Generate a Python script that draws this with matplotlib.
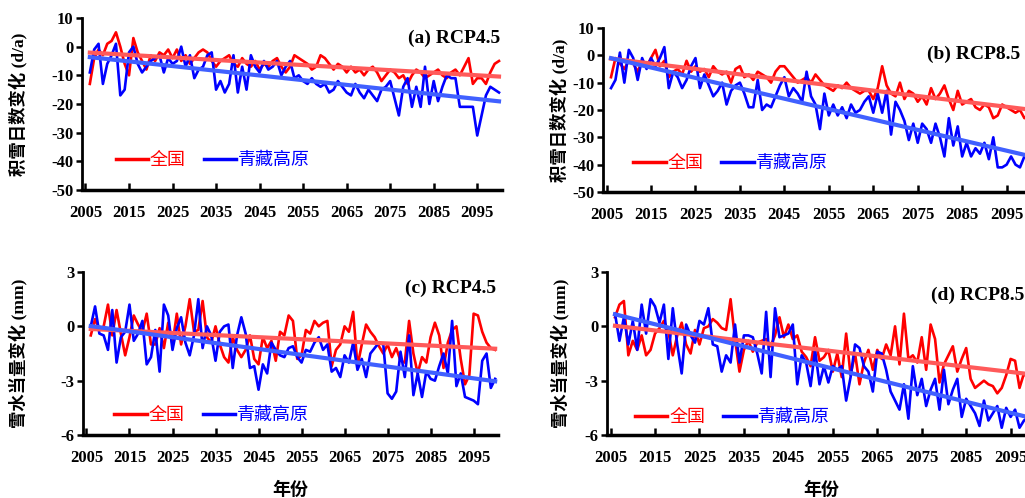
import matplotlib
matplotlib.use("Agg")
import matplotlib.pyplot as plt
import numpy as np

plt.rcParams['font.family'] = ['Liberation Serif', 'Noto Sans CJK SC']
plt.rcParams['font.weight'] = 'bold'
plt.rcParams['axes.unicode_minus'] = False

years = np.arange(2006, 2101)
xticks = [2005, 2015, 2025, 2035, 2045, 2055, 2065, 2075, 2085, 2095]

# (a) snow cover days, RCP4.5
a_nation = [-13, -4, -1, -3, 1, 2, 5, 0, -6, -10,
            3, -2, -5, -8, -3, -5, -2, -3, -1, -4,
            -1, -5, -3, -6, -4, -2, -1, -2, -5, -7,
            -5, -4, -3, -6, -7, -4, -6, -7, -5, -8,
            -6, -7, -5, -4, -7, -9, -7, -3, -4, -5,
            -6, -8, -7, -3, -4, -6, -8, -6, -7, -9,
            -7, -9, -8, -10, -8, -7, -9, -12, -10, -8,
            -9, -11, -10, -13, -10, -8, -9, -11, -10, -9,
            -8, -10, -11, -9, -8, -10, -7, -4, -13, -11,
            -11, -13, -9, -6, -5]
a_tibet = [-9, -1, 1, -13, -6, -3, 1, -17, -15, -2,
           0, -6, -9, -7, -5, -4, -3, -9, -4, -6,
           -5, 0, -7, -3, -11, -8, -7, -3, -2, -15,
           -12, -16, -13, -3, -16, -7, -15, -3, -7, -9,
           -5, -8, -7, -5, -10, -7, -5, -11, -10, -12,
           -13, -11, -13, -14, -13, -16, -15, -12, -14, -16,
           -17, -13, -16, -18, -15, -17, -19, -15, -14, -12,
           -18, -24, -14, -11, -21, -14, -21, -7, -20, -12,
           -19, -14, -10, -11, -11, -21, -21, -21, -21, -31,
           -24, -17, -14, -15, -16]

# (b) snow cover days, RCP8.5
b_nation = [-8, -1, -3, -5, -2, -3, -6, -2, -4, -1,
            2, -4, -2, -8, -6, -5, -7, -2, -6, -4,
            -6, -5, -8, -4, -6, -7, -6, -10, -5, -4,
            -8, -7, -9, -6, -7, -8, -10, -6, -4, -4,
            -6, -8, -10, -9, -8, -10, -7, -9, -11, -12,
            -13, -11, -12, -10, -12, -13, -14, -13, -13, -16,
            -12, -4, -11, -14, -15, -10, -16, -13, -14, -17,
            -15, -18, -12, -16, -14, -11, -16, -20, -13, -18,
            -17, -16, -19, -20, -18, -19, -23, -22, -18, -19,
            -20, -21, -20, -23, -22]
b_tibet = [-12, -9, 1, -10, 2, -1, -9, -1, -5, -1,
           -4, -1, 3, -12, -6, -8, -12, -9, -4, -1,
           -12, -7, -11, -15, -13, -10, -18, -13, -11, -10,
           -14, -19, -19, -9, -20, -18, -19, -15, -11, -8,
           -15, -12, -14, -17, -6, -15, -18, -27, -14, -22,
           -18, -22, -19, -23, -18, -21, -20, -17, -15, -21,
           -14, -21, -13, -29, -17, -20, -24, -31, -25, -32,
           -25, -27, -32, -25, -30, -37, -23, -33, -26, -37,
           -32, -37, -34, -36, -32, -38, -30, -41, -41, -40,
           -37, -40, -41, -37, -35]

# (c) snow water equivalent, RCP4.5
c_nation = [-0.5, 0.4, -0.2, 0.0, 1.2, -0.5, 0.9, -0.4, -1.6, -0.6,
            0.6, 0.1, -0.3, 0.7, -1.0, -1.0, -0.1, -1.2, 0.2, -1.0,
            0.7, -1.0, 0.0, 1.5, -0.3, -0.2, 1.4, -0.6, -0.9, 0.0,
            -1.0, -1.7, -2.0, -0.6, -1.3, -1.7, -1.3, -0.5, -1.8, -2.1,
            -0.6, -1.2, -0.8, -1.9, -0.3, -0.5, 0.6, 0.3, -1.8, -1.6,
            -0.2, -0.4, 0.3, 0.0, 0.2, 0.3, -2.2, -1.3, -1.0, 0.0,
            -0.3, 0.8, -2.2, -1.0, 0.1, -0.3, -0.6, -1.1, -1.5, -1.0,
            -1.7, -1.2, -1.9, -2.0, 0.3, -1.5, -2.6, -1.7, -2.0, -0.6,
            0.2, -0.5, -2.3, -0.9, -0.2, 0.0, -1.8, -3.2, -2.7, 0.7,
            0.6, -0.3, -0.9, -1.2, -1.3]
c_tibet = [0.0, 1.1, -0.4, -0.5, -1.3, 0.9, -2.0, -0.6, -0.3, 1.2,
           -0.8, -0.4, 0.3, -2.1, -1.7, -0.2, -2.5, 1.2, 0.6, -1.3,
           -0.1, 0.5, -0.9, -1.6, -0.5, 1.5, -1.2, 0.0, -0.5, -1.9,
           -0.3, 0.0, 0.1, -2.3, -0.5, 0.5, -0.4, -2.3, -2.2, -3.5,
           -2.1, -2.6, -0.9, -1.3, -1.6, -1.7, -1.2, -1.1, -1.7, -2.0,
           -1.3, -1.4, -0.9, -0.6, -1.3, -1.0, -2.5, -2.3, -2.8, -1.6,
           -2.0, -0.9, -2.4, -1.8, -2.8, -1.5, -1.2, -0.9, -1.0, -3.7,
           -4.0, -3.6, -1.4, -2.8, -0.5, -3.8, -2.6, -3.9, -2.5, -2.9,
           -3.0, -2.2, -1.5, -2.6, 0.3, -3.3, -2.6, -3.9, -4.0, -4.1,
           -4.3, -1.9, -1.5, -3.4, -2.9]

# (d) snow water equivalent, RCP8.5
d_nation = [0.5, 1.2, 1.4, -1.6, -0.8, -1.3, -0.5, -1.6, -1.3, -0.4,
            -0.1, 0.3, -0.3, -1.6, -0.5, 0.2, -1.0, -1.5, -0.2, -1.0,
            -0.1, 0.0, 0.4, 0.2, -0.1, -0.2, 1.5, -0.7, -2.5, -1.3,
            -0.8, -1.4, -0.9, -0.8, -0.7, -1.1, -0.5, 0.5, -0.6, 0.1,
            -0.7, -0.5, -1.4, -1.7, -2.2, -0.6, -1.9, -1.7, -1.3, -2.5,
            -1.5, -2.8, -0.4, -2.7, -1.5, -3.2, -2.0, -1.3, -2.4, -1.3,
            -1.8, -1.0, -1.6, 0.0, -2.1, 0.7, -1.8, -1.6, -2.0, -0.6,
            -2.4, 0.1, -0.7, -3.1, -2.1, -1.6, -1.1, -2.5, -1.8, -1.2,
            -2.9, -3.4, -3.2, -3.0, -3.2, -3.3, -3.7, -3.4, -2.7, -1.8,
            -1.9, -3.4, -2.6, -2.9, -2.7]
d_tibet = [0.7, -0.8, 0.5, -1.0, 0.3, -1.3, 1.2, -0.4, 1.5, 1.1,
           0.2, 1.2, -1.8, 1.0, -1.0, -2.6, 0.1, -0.5, -0.9, 0.3,
           0.1, 1.0, -1.0, -1.1, -2.5, -1.6, -2.0, 0.1, -2.0, -0.5,
           -0.5, -0.6, -1.5, -2.6, 0.8, -2.8, 1.0, -0.6, -0.5, -0.4,
           0.1, -3.2, -1.6, -2.0, -3.3, -1.3, -3.2, -2.2, -3.1, -2.2,
           -2.4, -2.2, -4.1, -2.8, -1.0, -1.2, -2.2, -2.5, -3.6, -1.4,
           -1.5, -2.4, -3.6, -4.1, -4.6, -3.2, -5.1, -2.2, -3.8, -2.9,
           -4.4, -3.5, -2.9, -4.6, -2.4, -4.3, -3.5, -2.9, -5.0, -4.0,
           -4.4, -4.8, -5.5, -4.1, -5.2, -4.8, -4.4, -5.6, -4.5, -5.0,
           -4.6, -5.6, -5.2, -5.0, -5.4]

panels = [
    # nation, tibet, title, ylabel, ylim, yticks, axes rect, title xy, legend xy, ylabel x
    (a_nation, a_tibet, '(a) RCP4.5', '积雪日数变化 (d/a)', (-50, 10), range(-50, 11, 10),
     [0.080, 0.6185, 0.4098, 0.3454], (0.995, 0.93), (0.08, 0.174), -0.130),
    (b_nation, b_tibet, '(b) RCP8.5', '积雪日数变化 (d/a)', (-50, 10), range(-50, 11, 10),
     [0.5883, 0.6145, 0.4185, 0.3293], (0.972, 0.89), (0.07, 0.177), -0.080),
    (c_nation, c_tibet, '(c) RCP4.5', '雪水当量变化 (mm)', (-6, 3), range(-6, 4, 3),
     [0.081, 0.1265, 0.405, 0.3273], (0.995, 0.95), (0.075, 0.123), -0.133),
    (d_nation, d_tibet, '(d) RCP8.5', '雪水当量变化 (mm)', (-6, 3), range(-6, 4, 3),
     [0.5922, 0.1265, 0.4185, 0.3273], (0.972, 0.91), (0.065, 0.11), -0.088),
]

fig = plt.figure(figsize=(10.25, 4.98), dpi=100)

for i, (nat, tib, title, ylab, ylim, yt, rect, txy, lxy, ylx) in enumerate(panels):
    ax = fig.add_axes(rect)
    ax.plot(years, nat, color='#FF0000', lw=1.9, label='全国', zorder=3)
    ax.plot(years, tib, color='#0000FF', lw=1.9, label='青藏高原', zorder=3)
    # linear trends
    for ys, c in ((nat, '#FF5A5A'), (tib, '#4060FF')):
        k, b = np.polyfit(years, ys, 1)
        ax.plot(years, k * years + b, color=c, lw=3.0, zorder=4)
    ax.set_xlim(2004.2, 2100.7)
    ax.set_ylim(*ylim)
    ax.set_xticks(xticks)
    ax.set_yticks(list(yt))
    ax.spines['top'].set_visible(False)
    ax.spines['right'].set_visible(False)
    ax.spines['left'].set_linewidth(2)
    ax.spines['bottom'].set_linewidth(2.5)
    ax.tick_params(axis='y', direction='out', length=4, width=1.8, labelsize=12, pad=2)
    ax.tick_params(axis='x', direction='in', length=5, width=1.8, labelsize=12, pad=11)
    for lb in ax.get_xticklabels() + ax.get_yticklabels():
        lb.set_fontweight('bold')
    ax.text(txy[0], txy[1], title, transform=ax.transAxes, ha='right', va='top',
            fontsize=14, fontweight='bold')
    ax.set_ylabel(ylab, fontsize=12.5, fontweight='bold')
    ax.yaxis.set_label_coords(ylx, 0.5)
    leg = ax.legend(loc='center left', bbox_to_anchor=lxy, ncol=2, frameon=False,
                    borderpad=0, borderaxespad=0, handlelength=1.8, handletextpad=0.1,
                    columnspacing=1.0, labelcolor='linecolor',
                    prop={'family': ['Noto Sans CJK SC'], 'size': 13, 'weight': 'normal'})
    for ln in leg.get_lines():
        ln.set_linewidth(2.5)
    if i >= 2:
        ax.set_xlabel('年份', fontsize=13, fontweight='bold', labelpad=11)

fig.savefig('out.png', dpi=100)
